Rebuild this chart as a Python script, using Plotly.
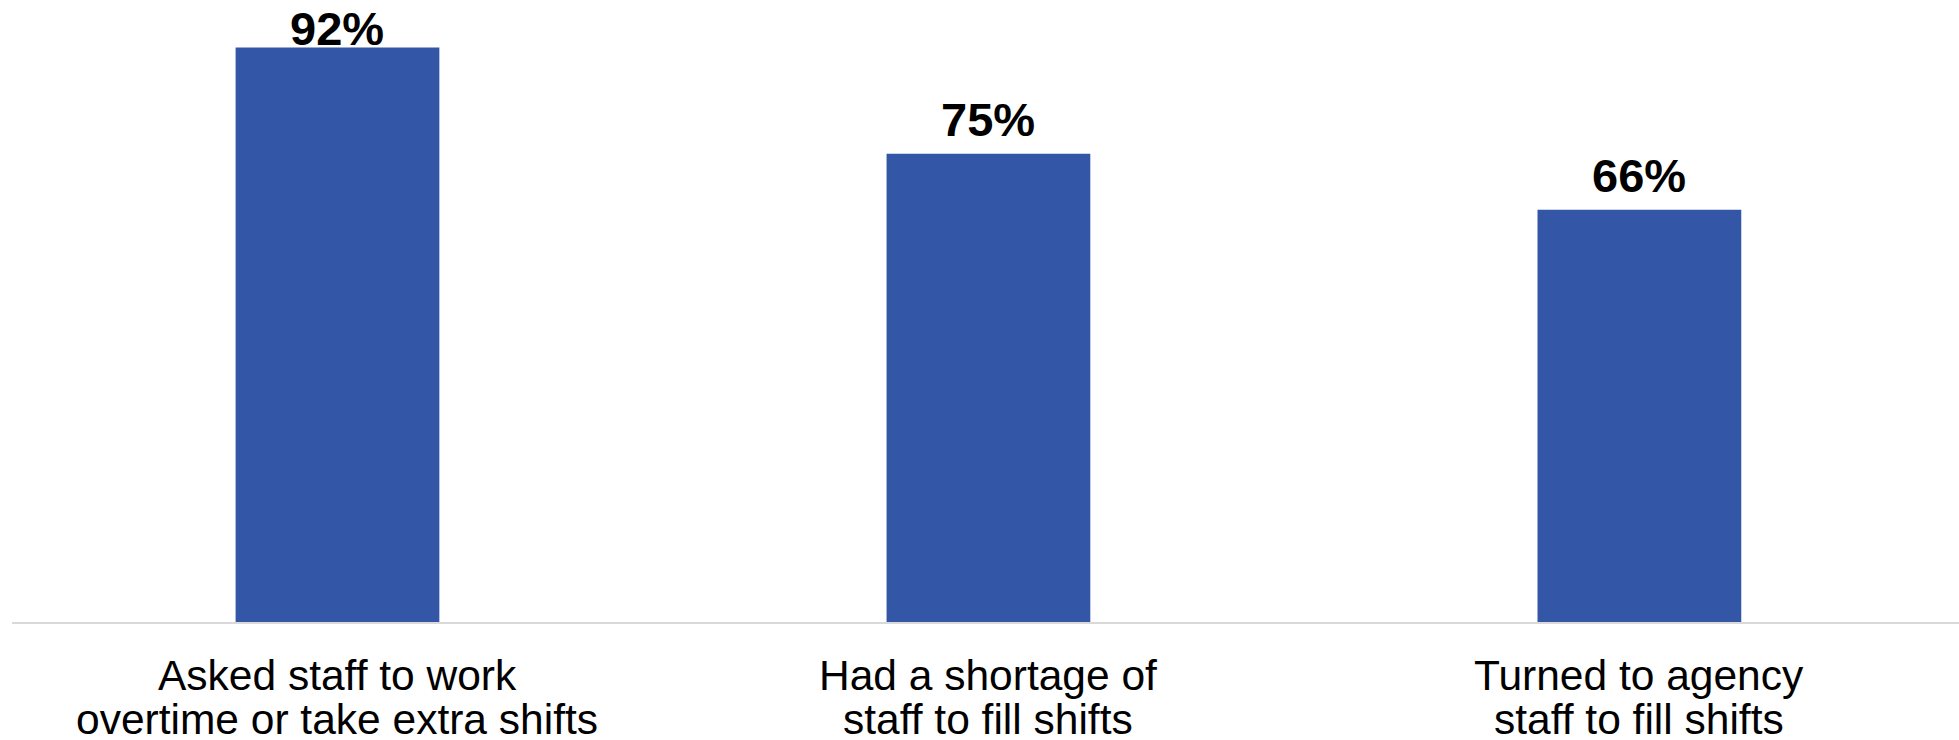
import plotly.graph_objects as go

# Survey results: share of employers reporting each staffing measure
categories = [
    "Asked staff to work<br>overtime or take extra shifts",
    "Had a shortage of<br>staff to fill shifts",
    "Turned to agency<br>staff to fill shifts",
]
values = [92, 75, 66]
value_labels = ["92%", "75%", "66%"]

BAR_COLOR = "#3356A6"
FONT = "Liberation Sans, Arial, sans-serif"

x_pos = list(range(len(categories)))

fig = go.Figure(
    go.Bar(
        x=x_pos,
        y=values,
        width=0.313,
        marker=dict(color=BAR_COLOR, line=dict(width=0)),
        hoverinfo="skip",
    )
)

annotations = []
# value labels above each bar (the tallest one is nudged down to stay on the canvas)
label_shift = [-10, 6, 6]
for xi, v, lab, sh in zip(x_pos, values, value_labels, label_shift):
    annotations.append(dict(
        x=xi, y=v, xref="x", yref="y", text=f"<b>{lab}</b>",
        showarrow=False, yanchor="bottom", yshift=sh,
        font=dict(family=FONT, size=47, color="#000000"),
    ))

# category labels under the axis, one annotation per line for tight line spacing
line_shift = [-53, -97]
for xi, cat in zip(x_pos, categories):
    for line, sh in zip(cat.split("<br>"), line_shift):
        annotations.append(dict(
            x=xi, y=0, xref="x", yref="paper", text=line,
            showarrow=False, yanchor="middle", yshift=sh,
            font=dict(family=FONT, size=42.5, color="#000000"),
        ))

fig.update_layout(
    width=1959,
    height=740,
    margin=dict(l=12, r=0, t=0, b=118),
    paper_bgcolor="white",
    plot_bgcolor="white",
    showlegend=False,
    annotations=annotations,
    xaxis=dict(
        range=[-0.5, 2.491],
        showticklabels=False,
        showgrid=False,
        zeroline=False,
        showline=True,
        linecolor="#D9D9D9",
        linewidth=2,
        ticks="",
        fixedrange=True,
    ),
    yaxis=dict(
        range=[0, 99.6],
        visible=False,
        showgrid=False,
        zeroline=False,
        fixedrange=True,
    ),
)

fig.write_html("out.html")
